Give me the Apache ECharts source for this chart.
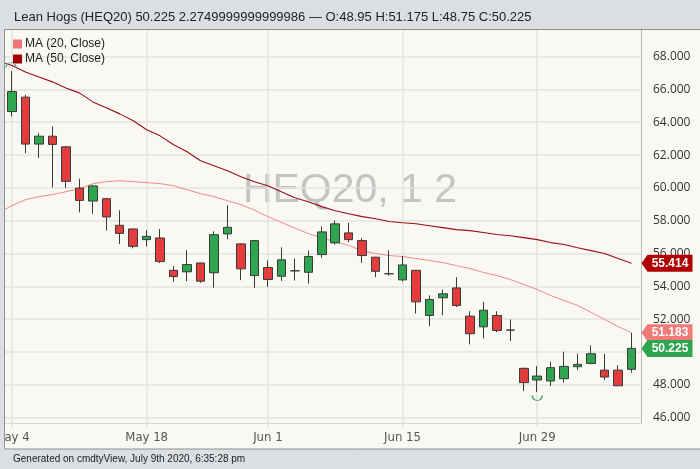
<!DOCTYPE html>
<html>
<head>
<meta charset="utf-8">
<script src="https://cdn.jsdelivr.net/npm/echarts@6/dist/echarts.min.js"></script>
<style>
html,body{margin:0;padding:0;background:#dcdfe2;}
#chart{width:700px;height:469px;}
</style>
</head>
<body>
<div id="chart"></div>
<script>
// ---- data ----
const dates = ['May 4','May 5','May 6','May 7','May 8','May 11','May 12','May 13','May 14','May 15',
  'May 18','May 19','May 20','May 21','May 22','May 26','May 27','May 28','May 29',
  'Jun 1','Jun 2','Jun 3','Jun 4','Jun 5','Jun 8','Jun 9','Jun 10','Jun 11','Jun 12',
  'Jun 15','Jun 16','Jun 17','Jun 18','Jun 19','Jun 22','Jun 23','Jun 24','Jun 25','Jun 26',
  'Jun 29','Jun 30','Jul 1','Jul 2','Jul 6','Jul 7','Jul 8','Jul 9'];
const openVals  = [64.65,65.53,62.67,63.15,62.50,59.99,59.20,59.34,57.72,57.50,
  56.85,56.95,54.98,54.89,55.43,54.83,57.20,56.59,54.66,
  55.15,54.62,54.95,54.86,55.94,56.65,57.26,56.79,55.78,54.77,
  54.40,54.98,52.23,53.31,53.91,52.19,51.54,52.23,51.34,49.01,
  48.30,48.24,48.38,49.11,49.31,48.90,48.90,48.95];
const closeVals = [65.87,62.67,63.15,62.65,60.40,59.24,60.12,58.23,57.23,56.44,
  57.05,55.51,54.60,55.33,54.32,57.15,57.60,55.07,56.79,
  54.42,55.62,54.95,55.82,57.32,57.81,56.85,55.88,54.92,54.77,
  55.31,53.06,53.20,53.55,52.84,51.12,52.55,51.32,51.34,48.14,
  48.54,49.05,49.13,49.25,49.90,48.48,47.95,50.225];
const highVals  = [67.12,65.67,63.34,63.74,62.55,60.56,60.19,59.38,58.63,57.52,
  57.42,57.50,55.23,56.20,55.45,57.36,58.94,56.62,56.82,
  55.59,56.38,55.70,56.18,57.66,58.01,57.87,56.95,55.80,56.20,
  55.84,55.00,53.45,53.81,54.56,52.49,53.06,52.49,51.99,49.05,
  49.15,49.42,50.02,49.91,50.41,49.90,49.19,51.175];
const lowVals   = [64.35,62.12,61.82,60.03,60.00,58.51,58.43,57.40,56.59,56.32,
  56.44,55.43,54.28,54.32,54.22,53.92,56.89,54.38,53.91,
  53.98,54.34,54.36,54.18,55.74,56.55,56.69,55.43,54.56,54.66,
  54.30,52.35,51.58,52.25,52.74,50.47,50.83,51.22,50.67,47.63,
  47.57,47.93,48.14,48.90,49.25,48.30,47.93,48.75];
// moving averages: first value belongs to the trading day before May 4
const ma20 = [58.49,58.92,59.28,59.47,59.59,59.77,59.95,60.26,60.38,60.44,60.38,60.32,60.26,60.13,
  59.89,59.65,59.47,59.22,58.98,58.65,58.25,57.90,57.55,57.22,56.95,56.73,56.49,56.18,56.00,55.88,
  55.82,55.70,55.58,55.45,55.27,55.09,54.85,54.66,54.42,54.12,53.81,53.45,53.14,52.84,52.42,
  51.99,51.56,51.183];
const ma50 = [67.73,67.46,67.06,66.76,66.46,66.09,65.79,65.24,64.88,64.51,64.09,63.54,63.17,62.63,
  62.20,61.65,61.35,61.05,60.68,60.38,60.13,59.77,59.40,59.16,58.86,58.61,58.43,58.25,58.12,57.95,
  57.88,57.82,57.70,57.58,57.46,57.40,57.28,57.16,57.09,56.97,56.85,56.67,56.55,56.36,56.18,
  56.00,55.70,55.414];
const xTickLabels = ['May 4','May 18','Jun 1','Jun 15','Jun 29'];
const yTickLabels = [46,48,50,52,54,56,58,60,62,64,66,68];
const titleText = 'Lean Hogs (HEQ20) 50.225 2.2749999999999986 \u2014 O:48.95 H:51.175 L:48.75 C:50.225';
const footerText = 'Generated on cmdtyView, July 9th 2020, 6:35:28 pm';
const watermark = 'HEQ20, 1 2';

// ---- build ----
const UP = '#2ea64f', DOWN = '#e23c3c', EDGE = '#3a3a3a';
const candleData = dates.map((d, i) => {
  const item = {value: [i, openVals[i], closeVals[i], lowVals[i], highVals[i]]};
  if (openVals[i] === closeVals[i]) {
    item.itemStyle = {color: EDGE, color0: EDGE, borderColor: EDGE, borderColor0: EDGE};
  }
  return item;
});
const ma20Data = ma20.map((v, i) => [i - 1, v]);
const ma50Data = ma50.map((v, i) => [i - 1, v]);
const xTickIdx = xTickLabels.map(l => dates.indexOf(l));
const last = dates.length - 1;

const badgePath = 'path://M0,8.5L6,0L51,0L51,17L6,17Z';
function badge(value, color) {
  return {
    symbol: badgePath, symbolSize: [51, 17], symbolOffset: [35.5, 0], silent: true,
    label: {show: true, formatter: () => value.toFixed(3), color: '#fff', fontWeight: 'bold',
      fontSize: 12, fontFamily: 'Liberation Sans, Arial, sans-serif', offset: [3, 0]},
    itemStyle: {color: color}, animation: false
  };
}

const chart = echarts.init(document.getElementById('chart'), null, {renderer: 'canvas'});
const option = {
  backgroundColor: '#dcdfe2',
  animation: false,
  title: [
    {text: titleText, left: 9, top: 6,
     textStyle: {fontSize: 13, fontWeight: 'normal', color: '#222', fontFamily: 'Liberation Sans, Arial, sans-serif'}},
    {text: footerText, left: 8, top: 449,
     textStyle: {fontSize: 10, fontWeight: 'normal', color: '#222', fontFamily: 'Liberation Sans, Arial, sans-serif'}}
  ],
  graphic: [
    {type: 'rect', z: -10, silent: true, shape: {x: 4, y: 29, width: 700, height: 420},
     style: {fill: '#faf8f3'}},
    {type: 'text', z: -5, silent: true, x: 350, y: 191,
     style: {text: watermark, fill: '#c4c4c4', fontSize: 41, fontFamily: 'Liberation Sans, Arial, sans-serif',
       textAlign: 'center', textVerticalAlign: 'middle'}},
    {type: 'rect', z: 50, silent: true, shape: {x: 0, y: 29, width: 4, height: 421},
     style: {fill: '#dcdfe2'}},
    {type: 'rect', z: 51, silent: true, shape: {x: 4.5, y: 29.5, width: 700, height: 419.5},
     style: {fill: 'none', stroke: '#8f8f8f', lineWidth: 1}}
  ],
  legend: {
    orient: 'vertical', left: 8, top: 33, itemGap: 3, itemWidth: 9, itemHeight: 9, icon: 'rect',
    data: ['MA (20, Close)', 'MA (50, Close)'],
    textStyle: {fontSize: 12, color: '#222', fontFamily: 'Liberation Sans, Arial, sans-serif', padding: [0, 0, 0, -2]}
  },
  grid: {left: 4, right: 59, top: 29, bottom: 46, containLabel: false, outerBoundsMode: 'none'},
  xAxis: {
    type: 'value', min: -0.594, max: 46.705,
    axisLine: {show: true, onZero: false, lineStyle: {color: '#d6d6d6', width: 1}},
    axisTick: {show: true, length: 4, customValues: xTickIdx, lineStyle: {color: '#dedede', width: 1.5}},
    axisLabel: {customValues: xTickIdx, formatter: v => dates[Math.round(v)], margin: 8,
      color: '#555', fontSize: 13, fontFamily: 'Liberation Sans Narrow, DejaVu Sans Condensed, sans-serif'},
    splitLine: {show: true, lineStyle: {color: '#e3e3e3', width: 1.5}}
  },
  yAxis: {
    type: 'value', position: 'right', min: 45.68, max: 69.68, scale: true,
    axisLine: {show: true, onZero: false, lineStyle: {color: '#b8b8b8', width: 1}},
    axisTick: {show: false, customValues: yTickLabels},
    axisLabel: {customValues: yTickLabels, formatter: v => v.toFixed(3), margin: 12,
      color: '#333', fontSize: 12, fontFamily: 'Open Sans, sans-serif'},
    splitLine: {show: true, lineStyle: {color: '#e3e3e3', width: 1.5}}
  },
  series: [
    {
      name: 'MA (20, Close)', type: 'line', data: ma20Data, showSymbol: false, symbol: 'none',
      color: '#f07474', lineStyle: {color: '#ec8b8b', width: 1}, z: 3, clip: true,
      markPoint: {data: [Object.assign({coord: [last, ma20[ma20.length - 1]]}, badge(ma20[ma20.length - 1], '#f07a7a'))]}
    },
    {
      name: 'MA (50, Close)', type: 'line', data: ma50Data, showSymbol: false, symbol: 'none',
      color: '#a40000', lineStyle: {color: '#9a1010', width: 1.1}, z: 3, clip: true,
      markPoint: {data: [Object.assign({coord: [last, ma50[ma50.length - 1]]}, badge(ma50[ma50.length - 1], '#b00000'))]}
    },
    {
      name: 'HEQ20', type: 'candlestick', data: candleData, barWidth: 9, z: 4,
      encode: {x: 0, y: [1, 2, 3, 4]},
      itemStyle: {color: UP, color0: DOWN, borderColor: EDGE, borderColor0: EDGE, borderWidth: 1},
      markPoint: {
        silent: true,
        data: [
          {type: 'max', valueDim: 'highest', symbol: 'path://M0,5 A5,5 0 0 1 10,5', symbolSize: [10, 5],
           symbolOffset: [-1, -6], itemStyle: {color: 'none', borderColor: '#6aa57e', borderWidth: 1}, label: {show: false}},
          {type: 'min', valueDim: 'lowest', symbol: 'path://M0,0 A5,5 0 0 0 10,0', symbolSize: [10, 5],
           symbolOffset: [0, 6], itemStyle: {color: 'none', borderColor: '#3d9d5c', borderWidth: 1}, label: {show: false}},
          Object.assign({coord: [last, closeVals[last]]}, badge(closeVals[last], '#2ea64f'))
        ]
      }
    }
  ]
};
chart.setOption(option);
</script>
</body>
</html>
